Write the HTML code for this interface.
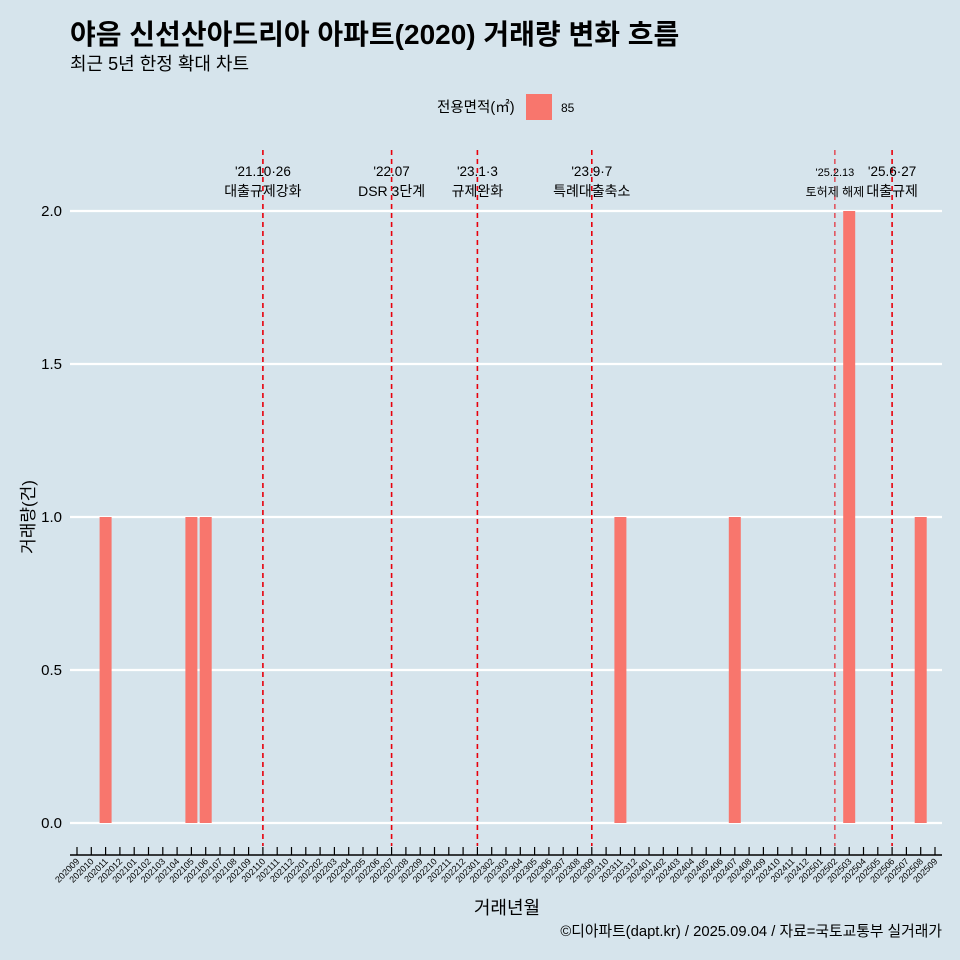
<!DOCTYPE html>
<html><head><meta charset="utf-8"><style>
body{margin:0;background:#d6e4ec;}
svg{display:block;font-family:"Liberation Sans","Noto Sans CJK KR",sans-serif;}
</style></head><body>
<svg id="c" width="960" height="960" viewBox="0 0 960 960">
<rect width="960" height="960" fill="#d6e4ec"/>
<text x="70" y="44" font-size="28" font-weight="bold" fill="#000">야음 신선산아드리아 아파트(2020) 거래량 변화 흐름</text>
<text x="70" y="70" font-size="18" fill="#000">최근 5년 한정 확대 차트</text>
<g>
<text x="437" y="112" font-size="14.5">전용면적(㎡)</text>
<rect x="526" y="94" width="26" height="26" fill="#f8766d"/>
<text x="561" y="112" font-size="12">85</text>
</g>
<g id="grid"></g><g id="bars"></g><g id="vl"></g><g id="axes"></g>
<text transform="translate(34,517) rotate(-90)" text-anchor="middle" font-size="17">거래량(건)</text>
<text x="507" y="914" text-anchor="middle" font-size="18">거래년월</text>
<text x="942" y="936" text-anchor="end" font-size="14.8">©디아파트(dapt.kr) / 2025.09.04 / 자료=국토교통부 실거래가</text>
</svg>
<script>
const barMonths=["202011","202105","202106","202311","202407","202503","202508"];
const barValues=[1,1,1,1,1,2,1];
const yTicks=[0,0.5,1,1.5,2];
const yTickLabels=["0.0","0.5","1.0","1.5","2.0"];
const eventMonths=["202110","202207","202301","202309","202502","202506"];
const eventDates=["'21.10·26","'22.07","'23.1·3","'23.9·7","'25.2.13","'25.6·27"];
const eventLabels=["대출규제강화","DSR 3단계","규제완화","특례대출축소","토허제 해제","대출규제"];
const months=[];for(let y=2020;y<=2025;y++)for(let m=1;m<=12;m++){const s=""+y+(m<10?"0"+m:m);if(s>="202009"&&s<="202509")months.push(s);}
const NS="http://www.w3.org/2000/svg";
const x=i=>77+i*(935-77)/(months.length-1);
const y=v=>823-v*306;
function mk(p,t,a){const e=document.createElementNS(NS,t);for(const k in a)e.setAttribute(k,a[k]);document.getElementById(p).appendChild(e);return e;}
yTicks.forEach((v,i)=>{
 const l=mk("grid","line",{x1:70,x2:942,y1:y(v),y2:y(v),stroke:"#fff","stroke-width":2.2});
 
 
 const t=mk("grid","text",{x:62,y:y(v)+5,"text-anchor":"end","font-size":15});t.textContent=yTickLabels[i];
 
 
});
barMonths.forEach((m,i)=>{
 const xi=x(months.indexOf(m));
 const r=mk("bars","rect",{x:xi-6,y:y(barValues[i]),width:12,height:y(0)-y(barValues[i]),fill:"#f8766d"});
 
 
});
eventMonths.forEach((m,i)=>{
 const xi=x(months.indexOf(m));
 const l=mk("vl","line",{x1:xi,x2:xi,y1:150,y2:846,stroke:"#e8000b","stroke-width":i==4?1:1.6,"stroke-dasharray":"5,4"});
 
 
 const t1=mk("vl","text",{x:xi,y:176,"text-anchor":"middle","font-size":i==4?11:13.5});t1.textContent=eventDates[i];
 
 
 const t2=mk("vl","text",{x:xi,y:196,"text-anchor":"middle","font-size":i==4?12:14});t2.textContent=eventLabels[i];
 
 
});
const ax=mk("axes","line",{x1:70,x2:942,y1:855,y2:855,stroke:"#000","stroke-width":1.5});


months.forEach((m,i)=>{
 const xi=x(i);
 const tk=mk("axes","line",{x1:xi,x2:xi,y1:847,y2:855,stroke:"#000","stroke-width":1.2});
 
 
 const t=mk("axes","text",{transform:`translate(${xi+3},${862}) rotate(-45)`,"text-anchor":"end","font-size":9});t.textContent=m;
 
 
});
</script>
</body></html>
